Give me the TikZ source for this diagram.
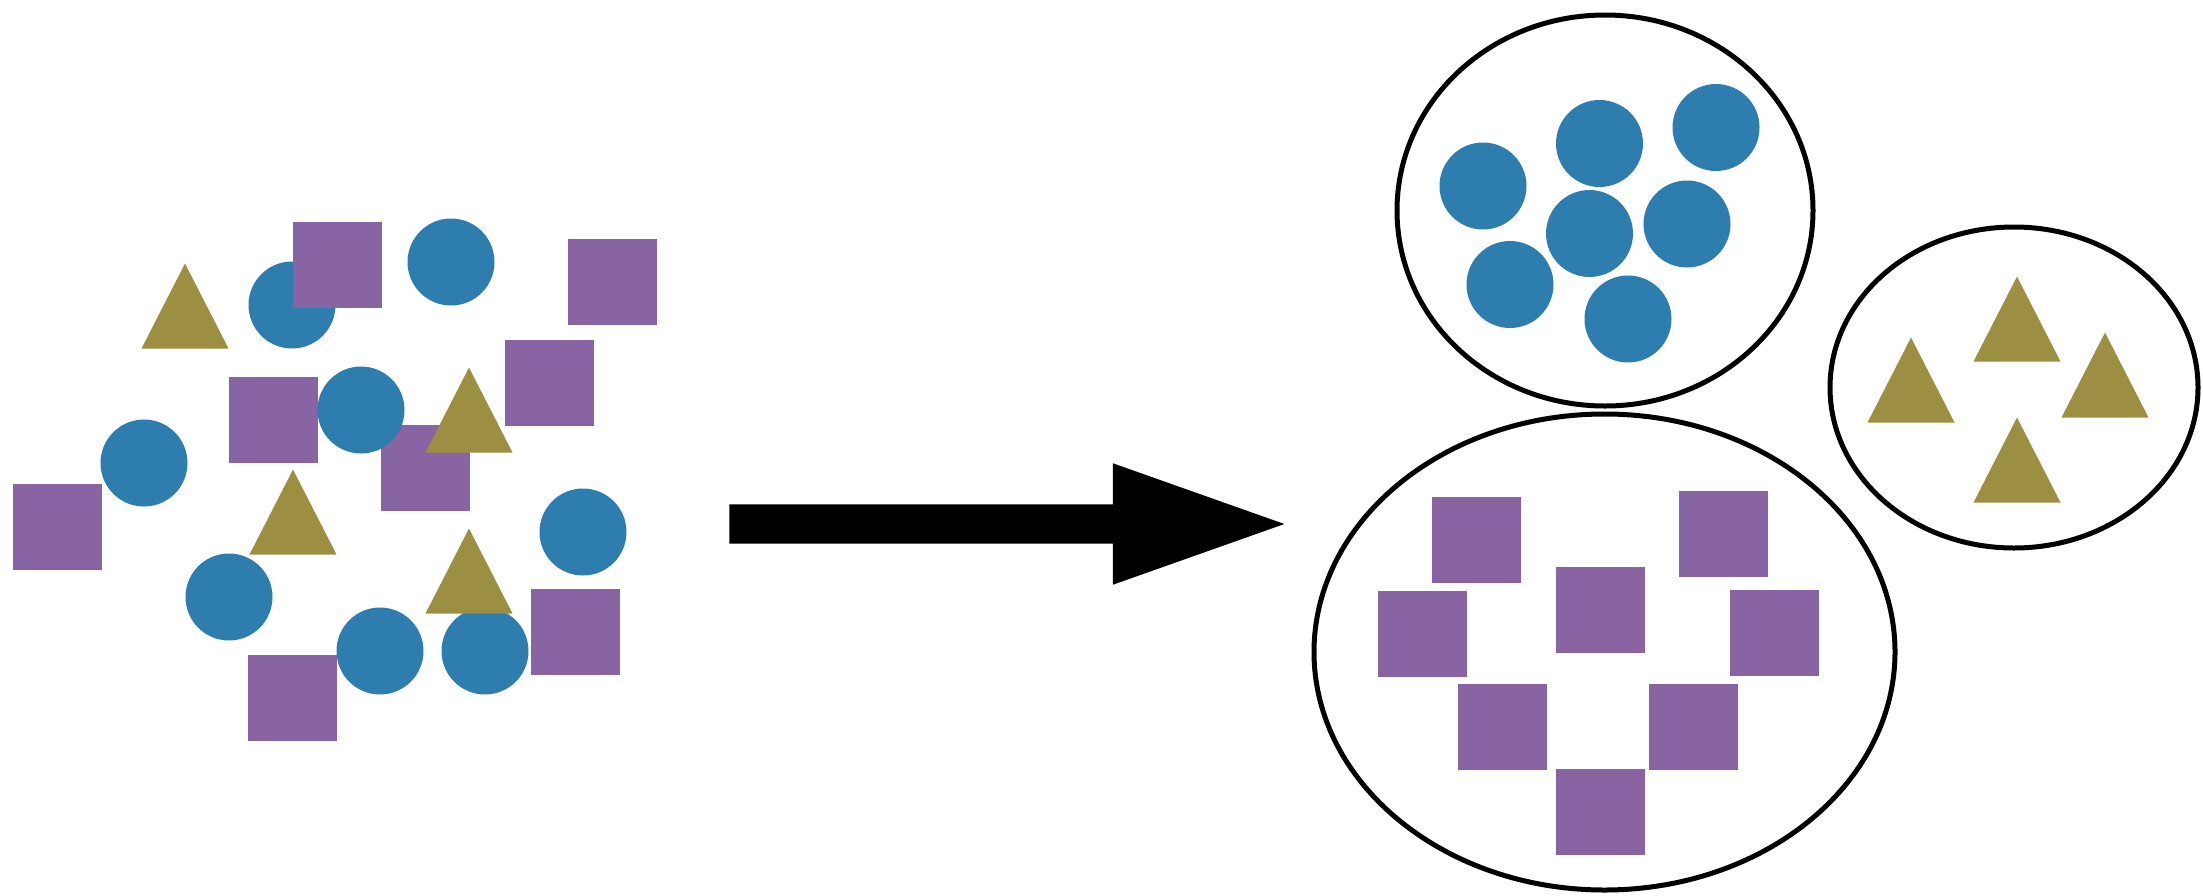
\documentclass[tikz,border=0pt]{standalone}
\usepackage{tikz}
\usetikzlibrary{shapes.geometric, shapes.arrows}
\definecolor{dotblue}{RGB}{46,125,175}
\definecolor{boxpurple}{RGB}{137,100,162}
\definecolor{triolive}{RGB}{157,143,66}

\begin{document}
\begin{tikzpicture}[x=1pt,y=-1pt]
  \tikzstyle{dot}=[circle,fill=dotblue,minimum size=87pt,inner sep=0pt]
  \tikzstyle{box}=[rectangle,fill=boxpurple,minimum width=89pt,minimum height=86pt,inner sep=0pt]
  \tikzstyle{tri}=[isosceles triangle,isosceles triangle stretches,shape border rotate=90,
                   fill=triolive,minimum width=87pt,minimum height=85pt,inner sep=0pt,anchor=apex]
  \tikzstyle{group}=[ellipse,draw,line width=5pt,inner sep=0pt]

  \useasboundingbox (0,0) rectangle (2203,895);

  % mixed heap
  \node[dot] (l_c1) at (292,305) {};
  \node[box] (l_s1) at (337,265)   {};
  \node[box] (l_s2) at (612,281.5) {};
  \node[box] (l_s3) at (549,383)   {};
  \node[box] (l_s4) at (273.5,420) {};
  \node[box] (l_s5) at (425,468)   {};
  \node[box] (l_s6) at (57,527)    {};
  \node[box] (l_s7) at (575.5,632) {};
  \node[box] (l_s8) at (292.5,698) {};
  \node[dot] (l_c2) at (451,262) {};
  \node[dot] (l_c3) at (361,410) {};
  \node[dot] (l_c4) at (144,463) {};
  \node[dot] (l_c5) at (583,532) {};
  \node[dot] (l_c6) at (229,597) {};
  \node[dot] (l_c7) at (380,651) {};
  \node[dot] (l_c8) at (485,651) {};
  \node[tri] (l_t1) at (185,263) {};
  \node[tri] (l_t2) at (469,367) {};
  \node[tri] (l_t3) at (293,469) {};
  \node[tri] (l_t4) at (469,528) {};

  \node[single arrow,fill=black,inner xsep=0pt,inner ysep=19.5pt,minimum height=555pt,
        single arrow head extend=41pt,single arrow tip angle=39,anchor=tip] (arr) at (1285,524) {};

  % sorted groups
  \node[group,minimum width=416pt,minimum height=391pt] (dots)  at (1605,210.5) {};
  \node[group,minimum width=581pt,minimum height=476pt] (boxes) at (1604.5,652) {};
  \node[group,minimum width=368pt,minimum height=321pt] (tris)  at (2014,387.5) {};

  \node[dot] (r_c1) at (1483,186)     {};
  \node[dot] (r_c2) at (1599.5,143.5) {};
  \node[dot] (r_c3) at (1716,127.5)   {};
  \node[dot] (r_c4) at (1687,224)     {};
  \node[dot] (r_c5) at (1589.5,233.5) {};
  \node[dot] (r_c6) at (1510,284.5)   {};
  \node[dot] (r_c7) at (1628,319)     {};

  \node[box] (r_s1) at (1476,540)     {};
  \node[box] (r_s2) at (1422.5,633.5) {};
  \node[box] (r_s3) at (1600,609.5)   {};
  \node[box] (r_s4) at (1723.5,534)   {};
  \node[box] (r_s5) at (1774.5,633)   {};
  \node[box] (r_s6) at (1502.5,727)   {};
  \node[box] (r_s7) at (1693,727)     {};
  \node[box] (r_s8) at (1600,812)     {};

  \node[tri] (r_t1) at (1911,337) {};
  \node[tri] (r_t2) at (2017,276) {};
  \node[tri] (r_t3) at (2105,332) {};
  \node[tri] (r_t4) at (2017,417) {};
\end{tikzpicture}
\end{document}
